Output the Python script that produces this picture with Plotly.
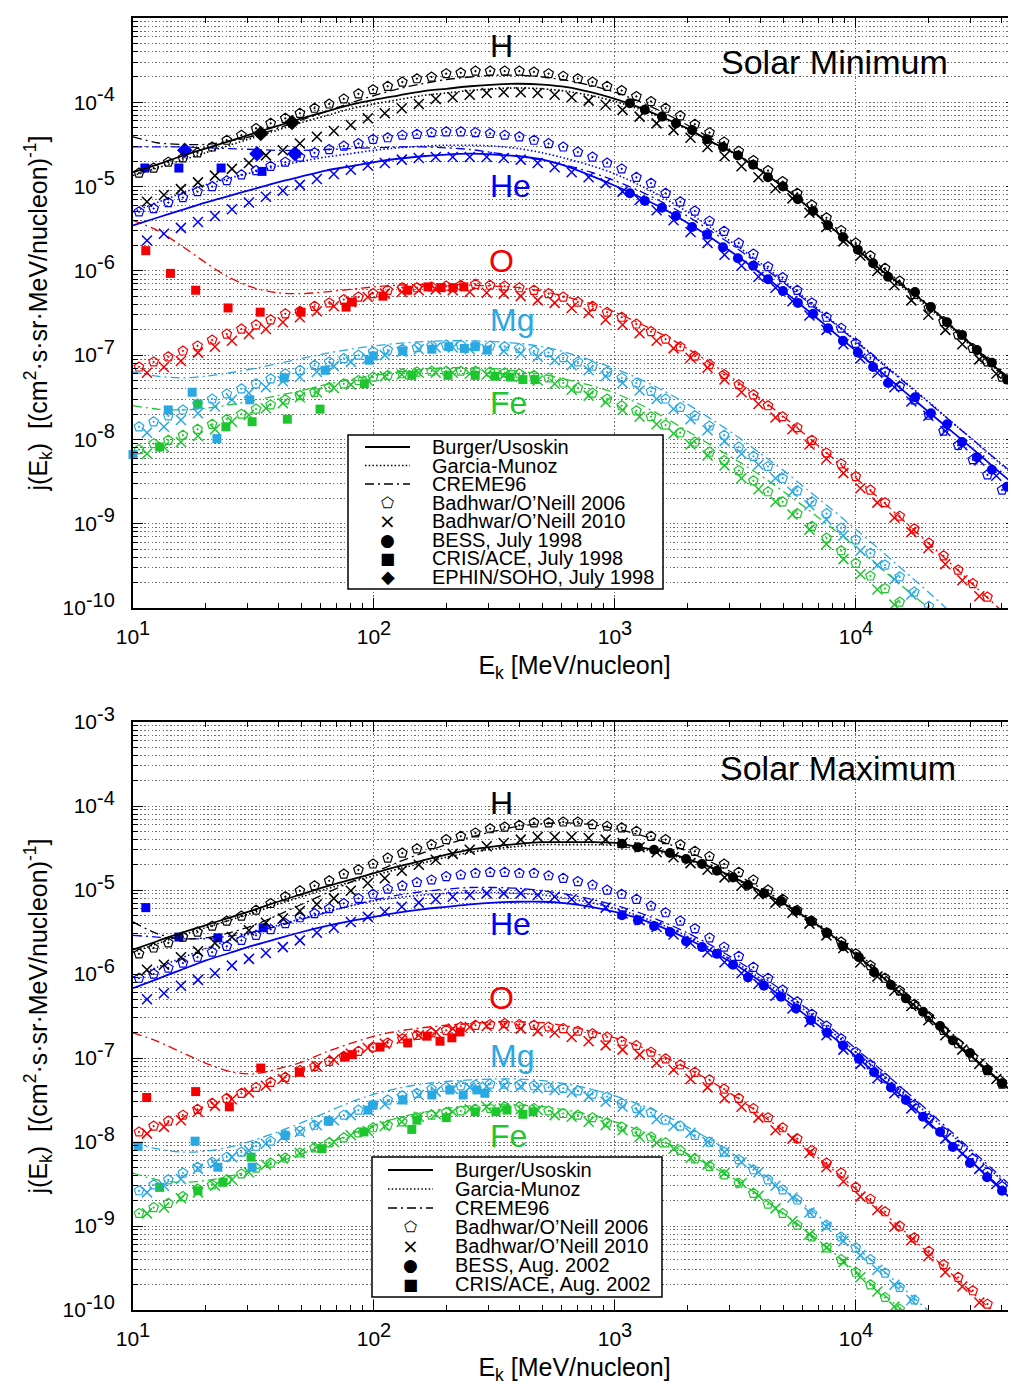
import plotly.graph_objects as go

# ---------------------------------------------------------------- energies (MeV/nucleon)
E_LINE = [10, 12.59, 15.85, 19.95, 25.12, 31.62, 39.81, 50.12, 63.10, 79.43,
          100, 125.9, 158.5, 199.5, 251.2, 316.2, 398.1, 501.2, 631.0, 794.3,
          1000, 1259, 1585, 1995, 2512, 3162, 3981, 5012, 6310, 7943,
          10000, 12589, 15849, 19953, 25119, 31623, 39811, 50119]
E_B06 = [10.59, 12.18, 14.01, 16.11, 18.52, 21.30, 24.50, 28.17, 32.40, 37.26,
         42.85, 49.27, 56.66, 65.16, 74.94, 86.18, 99.10, 114.0, 131.1, 150.7,
         173.3, 199.3, 229.2, 263.6, 303.2, 348.6, 400.9, 461.1, 530.2, 609.8,
         701.2, 806.4, 927.4, 1066, 1227, 1411, 1622, 1866, 2145, 2467,
         2837, 3263, 3752, 4315, 4962, 5707, 6563, 7547, 8679, 9981,
         11478, 13200, 15180, 17457, 20075, 23087, 26550, 30532, 35112, 40379,
         46435]
E_B10 = [11.43, 13.44, 15.81, 18.60, 21.88, 25.73, 30.27, 35.60, 41.87, 49.25,
         57.93, 68.14, 80.14, 94.26, 110.9, 130.4, 153.4, 180.4, 212.2, 249.6,
         293.6, 345.3, 406.2, 477.7, 561.9, 660.9, 777.4, 914.3, 1075, 1265,
         1488, 1750, 2058, 2421, 2848, 3349, 3939, 4634, 5450, 6411,
         7540, 8869, 10432, 12270, 14432, 16975, 19966, 23484, 27622, 32489,
         38214, 44947]
E_BESS_MIN = [1153, 1330, 1567, 1791, 2089, 2410, 2805, 3236, 3741, 4315, 4977, 5741, 6637,
              7656, 8831, 10186, 11776, 13583, 17579, 20464, 23878, 27542, 31769, 36644, 42364]
E_BESS_MAX = [1069, 1245, 1452, 1690, 1972, 2296, 2649, 3090, 3565, 4150, 4887, 5636, 6501,
              7586, 8831, 10280, 11885, 13964, 16106, 18967, 22336, 25235, 29717, 34995, 40365]

# ---------------------------------------------------------------- SOLAR MINIMUM (log10 j)
H_MIN_B06 = [-4.84, -4.78, -4.71, -4.66, -4.60, -4.53, -4.45, -4.39, -4.31, -4.25,
             -4.19, -4.13, -4.07, -4.02, -3.96, -3.90, -3.85, -3.81, -3.76, -3.72,
             -3.70, -3.66, -3.65, -3.63, -3.63, -3.63, -3.63, -3.64, -3.66, -3.69,
             -3.72, -3.76, -3.81, -3.86, -3.93, -3.99, -4.07, -4.16, -4.26, -4.36,
             -4.47, -4.58, -4.69, -4.81, -4.94, -5.08, -5.22, -5.37, -5.52, -5.67,
             -5.82, -5.97, -6.12, -6.28, -6.44, -6.60, -6.76, -6.92, -7.08, -7.26,
             -7.42]
H_MIN_B10 = [-5.18, -5.10, -5.03, -4.95, -4.87, -4.79, -4.72, -4.63, -4.57, -4.49,
             -4.41, -4.34, -4.27, -4.19, -4.13, -4.07, -4.02, -3.96, -3.94, -3.91,
             -3.89, -3.88, -3.88, -3.89, -3.91, -3.94, -3.98, -4.03, -4.09, -4.17,
             -4.25, -4.33, -4.42, -4.53, -4.64, -4.76, -4.89, -5.02, -5.14, -5.31,
             -5.48, -5.65, -5.82, -6.00, -6.17, -6.35, -6.52, -6.70, -6.87, -7.05,
             -7.22, -7.40]
H_MIN_BU = [-4.83, -4.74, -4.64, -4.55, -4.46, -4.37, -4.28, -4.19, -4.11, -4.03,
            -3.97, -3.92, -3.87, -3.84, -3.81, -3.79, -3.78, -3.79, -3.82, -3.88,
            -3.96, -4.06, -4.18, -4.31, -4.47, -4.61, -4.80, -5.01, -5.24, -5.49,
            -5.73, -5.98, -6.19, -6.41, -6.67, -6.93, -7.20, -7.47]
H_MIN_GM = [-4.87, -4.78, -4.69, -4.60, -4.51, -4.42, -4.33, -4.24, -4.16, -4.08,
            -4.02, -3.97, -3.92, -3.89, -3.86, -3.84, -3.83, -3.84, -3.87, -3.92,
            -3.99, -4.08, -4.19, -4.32, -4.47, -4.62, -4.80, -5.01, -5.24, -5.49,
            -5.74, -5.99, -6.21, -6.43, -6.69, -6.95, -7.22, -7.49]
H_MIN_CR = [-4.41, -4.48, -4.50, -4.50, -4.46, -4.40, -4.31, -4.21, -4.11, -4.01,
            -3.92, -3.84, -3.78, -3.73, -3.70, -3.68, -3.68, -3.70, -3.74, -3.80,
            -3.88, -3.99, -4.12, -4.27, -4.43, -4.60, -4.79, -4.99, -5.21, -5.45,
            -5.69, -5.94, -6.17, -6.40, -6.66, -6.92, -7.19, -7.46]
H_MIN_BESS = [-4.01, -4.09, -4.17, -4.25, -4.33, -4.44, -4.53, -4.63, -4.74, -4.89, -5.00, -5.15, -5.29,
              -5.46, -5.60, -5.75, -5.91, -6.07, -6.25, -6.43, -6.61, -6.76, -6.94, -7.09, -7.29]
E_H_EPHIN = [33.9, 45.7]
H_MIN_EPHIN = [-4.37, -4.24]

HE_MIN_B06 = [-5.30, -5.26, -5.19, -5.13, -5.06, -5.00, -4.93, -4.86, -4.81, -4.76,
              -4.71, -4.65, -4.60, -4.56, -4.52, -4.49, -4.44, -4.42, -4.39, -4.38,
              -4.36, -4.35, -4.35, -4.36, -4.37, -4.39, -4.41, -4.45, -4.49, -4.53,
              -4.59, -4.65, -4.72, -4.79, -4.89, -4.96, -5.08, -5.18, -5.29, -5.41,
              -5.53, -5.67, -5.80, -5.95, -6.08, -6.23, -6.38, -6.55, -6.68, -6.86,
              -7.03, -7.20, -7.37, -7.53, -7.71, -7.90, -8.07, -8.24, -8.42, -8.60,
              -8.77]
HE_MIN_B10 = [-5.64, -5.56, -5.49, -5.42, -5.35, -5.27, -5.19, -5.12, -5.05, -4.98,
              -4.91, -4.85, -4.80, -4.75, -4.72, -4.68, -4.66, -4.65, -4.65, -4.65,
              -4.65, -4.66, -4.68, -4.72, -4.77, -4.83, -4.89, -4.96, -5.06, -5.16,
              -5.28, -5.40, -5.54, -5.67, -5.81, -5.94, -6.07, -6.20, -6.36, -6.53,
              -6.70, -6.87, -7.04, -7.21, -7.38, -7.55, -7.72, -7.90, -8.07, -8.25,
              -8.43, -8.61]
HE_MIN_BU = [-5.46, -5.37, -5.28, -5.19, -5.11, -5.03, -4.95, -4.88, -4.81, -4.76,
             -4.71, -4.67, -4.64, -4.62, -4.61, -4.62, -4.64, -4.68, -4.76, -4.87,
             -4.99, -5.12, -5.26, -5.43, -5.61, -5.81, -6.02, -6.24, -6.47, -6.71,
             -6.95, -7.19, -7.43, -7.67, -7.91, -8.15, -8.40, -8.64]
HE_MIN_GM = [-5.30, -5.19, -5.08, -4.98, -4.90, -4.83, -4.76, -4.70, -4.65, -4.61,
             -4.57, -4.54, -4.52, -4.51, -4.51, -4.52, -4.55, -4.60, -4.67, -4.75,
             -4.85, -4.98, -5.13, -5.30, -5.49, -5.69, -5.90, -6.12, -6.35, -6.59,
             -6.83, -7.07, -7.31, -7.55, -7.80, -8.04, -8.29, -8.53]
HE_MIN_CR = [-4.53, -4.53, -4.53, -4.54, -4.55, -4.56, -4.57, -4.57, -4.56, -4.55,
             -4.54, -4.53, -4.53, -4.54, -4.56, -4.60, -4.64, -4.69, -4.75, -4.83,
             -4.93, -5.05, -5.19, -5.35, -5.53, -5.72, -5.93, -6.14, -6.37, -6.60,
             -6.84, -7.08, -7.32, -7.56, -7.80, -8.04, -8.28, -8.52]
HE_MIN_BESS = [-5.08, -5.17, -5.25, -5.35, -5.48, -5.57, -5.72, -5.85, -5.94, -6.10, -6.24, -6.38, -6.51,
               -6.68, -6.83, -6.97, -7.14, -7.33, -7.50, -7.69, -7.82, -8.03, -8.21, -8.36, -8.56]
E_HE_CRIS_MIN = [11.2, 15.5, 23.2, 34.3]
HE_MIN_CRIS = [-4.78, -4.78, -4.78, -4.82]
E_HE_EPHIN = [16.4, 32.7, 47.0]
HE_MIN_EPHIN = [-4.57, -4.61, -4.61]

O_MIN_B06 = [-7.14, -7.08, -7.02, -6.95, -6.89, -6.82, -6.75, -6.69, -6.64, -6.58,
             -6.51, -6.48, -6.42, -6.38, -6.34, -6.31, -6.27, -6.23, -6.20, -6.20,
             -6.19, -6.18, -6.17, -6.16, -6.17, -6.18, -6.20, -6.23, -6.27, -6.31,
             -6.37, -6.42, -6.49, -6.55, -6.63, -6.72, -6.81, -6.90, -7.01, -7.11,
             -7.23, -7.35, -7.47, -7.60, -7.73, -7.86, -8.01, -8.16, -8.29, -8.44,
             -8.60, -8.75, -8.91, -9.06, -9.23, -9.38, -9.55, -9.71, -9.87, -10.03,
             -10.20]
O_MIN_B10 = [-7.21, -7.14, -7.07, -6.97, -6.90, -6.83, -6.75, -6.69, -6.61, -6.55,
             -6.48, -6.42, -6.37, -6.31, -6.27, -6.25, -6.23, -6.22, -6.23, -6.25,
             -6.26, -6.27, -6.30, -6.35, -6.38, -6.44, -6.50, -6.58, -6.64, -6.74,
             -6.83, -6.92, -7.03, -7.15, -7.29, -7.44, -7.58, -7.74, -7.88, -8.06,
             -8.23, -8.40, -8.58, -8.75, -8.93, -9.10, -9.29, -9.48, -9.67, -9.86,
             -10.05, -10.24]
O_MIN_CR = [-5.40, -5.52, -5.70, -5.90, -6.08, -6.20, -6.26, -6.27, -6.25, -6.22,
            -6.19, -6.17, -6.16, -6.16, -6.17, -6.18, -6.20, -6.24, -6.31, -6.39,
            -6.49, -6.62, -6.76, -6.92, -7.10, -7.30, -7.51, -7.73, -7.97, -8.21,
            -8.46, -8.71, -8.97, -9.23, -9.49, -9.76, -10.02, -10.29]
E_O_CRIS_MIN = [11.3, 14.3, 18.2, 24.8, 33.7, 49.8, 76.6, 81.3, 108.9, 138.0, 167.5, 189.7, 212.8, 236.0]
O_MIN_CRIS = [-5.76, -6.03, -6.23, -6.44, -6.49, -6.49, -6.43, -6.37, -6.30, -6.23, -6.19, -6.20, -6.20, -6.19]

MG_MIN_B06 = [-7.85, -7.79, -7.72, -7.65, -7.58, -7.52, -7.46, -7.40, -7.34, -7.28,
              -7.22, -7.18, -7.12, -7.08, -7.04, -7.00, -6.96, -6.94, -6.93, -6.91,
              -6.89, -6.88, -6.88, -6.89, -6.89, -6.90, -6.92, -6.95, -6.97, -7.03,
              -7.08, -7.13, -7.20, -7.27, -7.33, -7.43, -7.52, -7.62, -7.72, -7.84,
              -7.95, -8.09, -8.20, -8.32, -8.46, -8.61, -8.74, -8.88, -9.05, -9.19,
              -9.35, -9.49, -9.63, -9.81, -9.98, -10.15, -10.32, -10.50, -10.68, -10.86,
              -11.04]
MG_MIN_B10 = [-7.92, -7.85, -7.77, -7.69, -7.61, -7.53, -7.45, -7.38, -7.31, -7.26,
              -7.20, -7.13, -7.08, -7.04, -7.00, -6.96, -6.93, -6.91, -6.91, -6.93,
              -6.93, -6.95, -6.98, -7.02, -7.06, -7.12, -7.18, -7.25, -7.33, -7.42,
              -7.52, -7.64, -7.76, -7.89, -8.02, -8.17, -8.30, -8.46, -8.62, -8.78,
              -8.95, -9.14, -9.32, -9.49, -9.66, -9.84, -10.04, -10.22, -10.40, -10.58,
              -10.76, -10.94]
MG_MIN_CR = [-7.20, -7.25, -7.27, -7.25, -7.21, -7.16, -7.10, -7.04, -6.98, -6.93,
             -6.89, -6.86, -6.84, -6.83, -6.83, -6.84, -6.86, -6.90, -6.97, -7.06,
             -7.16, -7.28, -7.42, -7.58, -7.76, -7.95, -8.16, -8.37, -8.60, -8.83,
             -9.07, -9.31, -9.56, -9.81, -10.07, -10.33, -10.60, -10.86]
E_MG_CRIS_MIN = [10.0, 14.0, 17.6, 22.3, 30.5, 42.4, 62.7, 95.5, 99.3, 131.8, 173.8, 204.2, 237.1, 263.0, 295.1]
MG_MIN_CRIS = [-8.18, -7.65, -7.44, -7.99, -7.53, -7.27, -7.18, -7.06, -7.01, -6.95, -6.93, -6.90, -6.92, -6.90, -6.94]

FE_MIN_B06 = [-8.12, -8.05, -8.01, -7.95, -7.88, -7.82, -7.76, -7.70, -7.64, -7.59,
              -7.53, -7.48, -7.44, -7.38, -7.34, -7.30, -7.26, -7.24, -7.22, -7.20,
              -7.19, -7.19, -7.19, -7.19, -7.20, -7.21, -7.22, -7.24, -7.27, -7.33,
              -7.39, -7.45, -7.52, -7.60, -7.66, -7.73, -7.83, -7.92, -8.03, -8.15,
              -8.25, -8.37, -8.49, -8.62, -8.74, -8.88, -9.03, -9.17, -9.32, -9.47,
              -9.62, -9.77, -9.93, -10.09, -10.25, -10.41, -10.57, -10.73, -10.89, -11.05,
              -11.21]
FE_MIN_B10 = [-8.17, -8.09, -8.03, -7.96, -7.88, -7.79, -7.71, -7.63, -7.57, -7.50,
              -7.44, -7.39, -7.35, -7.30, -7.25, -7.23, -7.21, -7.21, -7.21, -7.22,
              -7.23, -7.24, -7.26, -7.30, -7.34, -7.41, -7.48, -7.56, -7.65, -7.73,
              -7.82, -7.93, -8.06, -8.19, -8.31, -8.46, -8.59, -8.74, -8.89, -9.07,
              -9.24, -9.42, -9.60, -9.78, -9.96, -10.13, -10.31, -10.49, -10.67, -10.85,
              -11.03, -11.21]
FE_MIN_CR = [-7.60, -7.64, -7.65, -7.63, -7.59, -7.54, -7.48, -7.42, -7.35, -7.29,
             -7.24, -7.20, -7.17, -7.15, -7.15, -7.16, -7.19, -7.23, -7.29, -7.36,
             -7.45, -7.58, -7.73, -7.90, -8.07, -8.24, -8.42, -8.62, -8.83, -9.05,
             -9.28, -9.52, -9.76, -10.00, -10.25, -10.50, -10.75, -11.00]
E_FE_CRIS_MIN = [12.9, 18.6, 24.3, 31.2, 43.7, 59.7, 91.2, 143.5, 202.8, 263.0, 317.7, 367.3, 415.0, 465.6]
FE_MIN_CRIS = [-8.09, -7.58, -7.85, -7.79, -7.76, -7.64, -7.34, -7.24, -7.24, -7.24, -7.25, -7.26, -7.29, -7.29]

# ---------------------------------------------------------------- SOLAR MAXIMUM (log10 j)
H_MAX_B06 = [-5.76, -5.69, -5.63, -5.56, -5.50, -5.43, -5.37, -5.31, -5.24, -5.16,
             -5.08, -5.01, -4.95, -4.89, -4.81, -4.76, -4.69, -4.62, -4.56, -4.51,
             -4.46, -4.40, -4.36, -4.32, -4.27, -4.25, -4.23, -4.20, -4.20, -4.19,
             -4.19, -4.22, -4.24, -4.26, -4.30, -4.36, -4.40, -4.46, -4.54, -4.60,
             -4.69, -4.79, -4.88, -5.00, -5.11, -5.24, -5.37, -5.51, -5.62, -5.76,
             -5.90, -6.05, -6.20, -6.36, -6.51, -6.67, -6.83, -6.99, -7.15, -7.31,
             -7.47]
H_MAX_B10 = [-5.95, -5.89, -5.80, -5.73, -5.63, -5.56, -5.48, -5.39, -5.34, -5.25,
             -5.17, -5.10, -5.01, -4.92, -4.86, -4.77, -4.70, -4.64, -4.57, -4.52,
             -4.48, -4.44, -4.40, -4.37, -4.37, -4.37, -4.38, -4.40, -4.44, -4.49,
             -4.55, -4.61, -4.68, -4.76, -4.85, -4.95, -5.05, -5.15, -5.27, -5.40,
             -5.54, -5.69, -5.86, -6.03, -6.20, -6.38, -6.55, -6.73, -6.90, -7.07,
             -7.25, -7.43]
H_MAX_BU = [-5.71, -5.61, -5.51, -5.42, -5.33, -5.24, -5.14, -5.05, -4.96, -4.88,
            -4.80, -4.72, -4.65, -4.58, -4.52, -4.48, -4.45, -4.43, -4.43, -4.43,
            -4.44, -4.49, -4.54, -4.63, -4.73, -4.86, -5.01, -5.16, -5.34, -5.54,
            -5.77, -6.01, -6.27, -6.52, -6.78, -7.03, -7.28, -7.53]
H_MAX_GM = [-5.74, -5.64, -5.54, -5.45, -5.36, -5.27, -5.17, -5.08, -4.99, -4.91,
            -4.83, -4.75, -4.68, -4.61, -4.55, -4.51, -4.48, -4.46, -4.46, -4.46,
            -4.47, -4.51, -4.56, -4.64, -4.74, -4.87, -5.02, -5.17, -5.35, -5.55,
            -5.78, -6.02, -6.28, -6.53, -6.79, -7.04, -7.29, -7.54]
H_MAX_CR = [-5.38, -5.52, -5.58, -5.57, -5.51, -5.42, -5.30, -5.17, -5.04, -4.91,
            -4.79, -4.67, -4.56, -4.46, -4.37, -4.30, -4.24, -4.21, -4.20, -4.22,
            -4.27, -4.34, -4.43, -4.54, -4.67, -4.81, -4.97, -5.14, -5.32, -5.52,
            -5.74, -5.97, -6.21, -6.46, -6.71, -6.96, -7.21, -7.46]
H_MAX_BESS = [-4.45, -4.49, -4.52, -4.56, -4.63, -4.69, -4.77, -4.85, -4.94, -5.04, -5.13, -5.25, -5.37,
              -5.51, -5.67, -5.80, -5.98, -6.13, -6.29, -6.45, -6.62, -6.79, -6.94, -7.14, -7.30]

HE_MAX_B06 = [-6.05, -6.00, -5.93, -5.87, -5.80, -5.74, -5.67, -5.60, -5.54, -5.47,
              -5.40, -5.33, -5.28, -5.22, -5.16, -5.10, -5.05, -4.99, -4.95, -4.91,
              -4.88, -4.84, -4.82, -4.80, -4.79, -4.79, -4.80, -4.80, -4.83, -4.86,
              -4.90, -4.94, -5.00, -5.05, -5.11, -5.19, -5.27, -5.37, -5.46, -5.57,
              -5.68, -5.79, -5.92, -6.05, -6.19, -6.33, -6.48, -6.62, -6.77, -6.93,
              -7.08, -7.24, -7.40, -7.56, -7.72, -7.88, -8.04, -8.20, -8.36, -8.53,
              -8.70]
HE_MAX_B10 = [-6.30, -6.23, -6.14, -6.07, -5.99, -5.90, -5.82, -5.75, -5.68, -5.60,
              -5.51, -5.45, -5.38, -5.32, -5.26, -5.20, -5.15, -5.11, -5.08, -5.06,
              -5.04, -5.04, -5.04, -5.06, -5.08, -5.11, -5.16, -5.21, -5.28, -5.36,
              -5.44, -5.53, -5.63, -5.74, -5.86, -5.99, -6.12, -6.26, -6.41, -6.57,
              -6.73, -6.90, -7.07, -7.24, -7.42, -7.60, -7.78, -7.96, -8.14, -8.32,
              -8.50, -8.68]
HE_MAX_BU = [-6.17, -6.06, -5.95, -5.84, -5.75, -5.66, -5.58, -5.50, -5.43, -5.37,
             -5.32, -5.27, -5.23, -5.20, -5.17, -5.15, -5.14, -5.14, -5.16, -5.20,
             -5.26, -5.34, -5.45, -5.58, -5.73, -5.89, -6.08, -6.29, -6.51, -6.74,
             -6.98, -7.23, -7.48, -7.76, -8.03, -8.29, -8.56, -8.83]
HE_MAX_GM = [-6.04, -5.92, -5.81, -5.70, -5.60, -5.51, -5.42, -5.34, -5.26, -5.19,
             -5.13, -5.09, -5.06, -5.04, -5.03, -5.03, -5.04, -5.06, -5.10, -5.15,
             -5.22, -5.31, -5.42, -5.55, -5.70, -5.86, -6.05, -6.25, -6.46, -6.69,
             -6.93, -7.17, -7.42, -7.67, -7.92, -8.18, -8.44, -8.70]
HE_MAX_CR = [-5.54, -5.56, -5.58, -5.58, -5.55, -5.50, -5.43, -5.35, -5.27, -5.19,
             -5.12, -5.06, -5.02, -4.99, -4.97, -4.97, -4.98, -5.01, -5.05, -5.11,
             -5.18, -5.27, -5.38, -5.51, -5.66, -5.83, -6.01, -6.21, -6.42, -6.65,
             -6.89, -7.13, -7.38, -7.63, -7.89, -8.15, -8.41, -8.67]
HE_MAX_BESS = [-5.30, -5.36, -5.43, -5.50, -5.61, -5.68, -5.76, -5.89, -6.04, -6.14, -6.27, -6.41, -6.55,
               -6.70, -6.85, -7.01, -7.17, -7.35, -7.50, -7.70, -7.88, -8.06, -8.25, -8.42, -8.58]
E_HE_CRIS_MAX = [11.3, 15.5, 22.5, 34.7]
HE_MAX_CRIS = [-5.21, -5.56, -5.57, -5.45]

O_MAX_B06 = [-7.88, -7.81, -7.75, -7.68, -7.61, -7.54, -7.48, -7.42, -7.35, -7.29,
             -7.23, -7.15, -7.10, -7.04, -6.98, -6.92, -6.87, -6.82, -6.77, -6.73,
             -6.70, -6.67, -6.63, -6.61, -6.60, -6.59, -6.60, -6.61, -6.63, -6.65,
             -6.68, -6.71, -6.75, -6.80, -6.85, -6.93, -7.01, -7.08, -7.17, -7.26,
             -7.37, -7.48, -7.60, -7.71, -7.83, -7.96, -8.10, -8.25, -8.37, -8.54,
             -8.68, -8.83, -9.00, -9.14, -9.30, -9.46, -9.61, -9.77, -9.93, -10.09,
             -10.25]
O_MAX_B10 = [-7.90, -7.82, -7.74, -7.64, -7.57, -7.49, -7.41, -7.33, -7.25, -7.17,
             -7.10, -7.02, -6.95, -6.88, -6.83, -6.77, -6.73, -6.69, -6.65, -6.63,
             -6.62, -6.62, -6.65, -6.68, -6.70, -6.75, -6.80, -6.85, -6.90, -6.96,
             -7.06, -7.14, -7.25, -7.35, -7.48, -7.58, -7.71, -7.86, -7.96, -8.13,
             -8.30, -8.47, -8.65, -8.81, -9.01, -9.17, -9.36, -9.55, -9.72, -9.91,
             -10.10, -10.28]
O_MAX_CR = [-6.70, -6.80, -6.93, -7.06, -7.16, -7.19, -7.13, -7.05, -6.93, -6.83,
            -6.74, -6.68, -6.64, -6.61, -6.59, -6.57, -6.57, -6.58, -6.62, -6.68,
            -6.76, -6.86, -6.98, -7.12, -7.28, -7.46, -7.66, -7.87, -8.09, -8.32,
            -8.56, -8.81, -9.06, -9.32, -9.58, -9.84, -10.10, -10.37]
E_O_CRIS_MAX = [11.4, 18.2, 25.1, 33.9, 49.0, 75.9, 81.3, 105.9, 138.0, 166.0, 187.9, 210.4, 227.5]
O_MAX_CRIS = [-7.47, -7.40, -7.58, -7.12, -7.17, -6.99, -6.96, -6.87, -6.82, -6.74, -6.80, -6.76, -6.69]

MG_MAX_B06 = [-8.58, -8.51, -8.45, -8.37, -8.30, -8.24, -8.18, -8.12, -8.05, -7.99,
              -7.92, -7.87, -7.80, -7.75, -7.68, -7.62, -7.56, -7.50, -7.45, -7.42,
              -7.37, -7.35, -7.33, -7.32, -7.31, -7.31, -7.32, -7.33, -7.35, -7.36,
              -7.39, -7.43, -7.46, -7.54, -7.60, -7.65, -7.74, -7.81, -7.92, -8.00,
              -8.12, -8.21, -8.33, -8.45, -8.57, -8.69, -8.85, -8.99, -9.13, -9.26,
              -9.40, -9.56, -9.73, -9.88, -10.04, -10.20, -10.36, -10.52, -10.68, -10.84,
              -11.00]
MG_MAX_B10 = [-8.60, -8.52, -8.44, -8.32, -8.25, -8.18, -8.10, -8.02, -7.94, -7.88,
              -7.80, -7.74, -7.68, -7.62, -7.55, -7.49, -7.44, -7.40, -7.37, -7.35,
              -7.34, -7.33, -7.34, -7.36, -7.38, -7.41, -7.46, -7.52, -7.58, -7.65,
              -7.73, -7.81, -7.89, -8.00, -8.12, -8.24, -8.36, -8.52, -8.66, -8.84,
              -9.01, -9.18, -9.35, -9.52, -9.70, -9.88, -10.07, -10.25, -10.43, -10.61,
              -10.79, -10.97]
MG_MAX_CR = [-8.01, -8.08, -8.12, -8.11, -8.06, -7.98, -7.88, -7.77, -7.65, -7.53,
             -7.43, -7.36, -7.31, -7.28, -7.26, -7.25, -7.25, -7.27, -7.31, -7.37,
             -7.45, -7.55, -7.67, -7.82, -7.98, -8.16, -8.35, -8.56, -8.78, -9.01,
             -9.25, -9.50, -9.75, -10.01, -10.27, -10.53, -10.79, -11.05]
E_MG_CRIS_MAX = [10.5, 18.1, 22.5, 31.2, 42.8, 64.6, 94.4, 99.1, 131.8, 173.8, 206.5, 234.4, 267.3, 288.4]
MG_MAX_CRIS = [-8.05, -7.99, -8.30, -8.30, -7.92, -7.75, -7.62, -7.56, -7.50, -7.44, -7.38, -7.44, -7.38, -7.42]

FE_MAX_B06 = [-8.85, -8.78, -8.73, -8.65, -8.56, -8.51, -8.45, -8.38, -8.31, -8.25,
              -8.19, -8.13, -8.07, -8.01, -7.95, -7.89, -7.83, -7.80, -7.76, -7.71,
              -7.68, -7.65, -7.63, -7.61, -7.60, -7.58, -7.58, -7.60, -7.63, -7.66,
              -7.68, -7.71, -7.77, -7.82, -7.88, -7.94, -8.01, -8.10, -8.20, -8.29,
              -8.39, -8.49, -8.61, -8.74, -8.85, -8.99, -9.13, -9.26, -9.40, -9.55,
              -9.70, -9.85, -9.99, -10.14, -10.29, -10.44, -10.59, -10.74, -10.89, -11.04,
              -11.19]
FE_MAX_B10 = [-8.85, -8.78, -8.67, -8.60, -8.52, -8.45, -8.36, -8.27, -8.20, -8.13,
              -8.06, -8.00, -7.92, -7.87, -7.81, -7.76, -7.70, -7.67, -7.64, -7.61,
              -7.58, -7.60, -7.61, -7.62, -7.68, -7.70, -7.76, -7.80, -7.86, -7.94,
              -8.01, -8.08, -8.19, -8.27, -8.37, -8.49, -8.64, -8.79, -8.94, -9.10,
              -9.26, -9.43, -9.61, -9.78, -9.96, -10.13, -10.30, -10.47, -10.64, -10.81,
              -10.98, -11.15]
FE_MAX_CR = [-8.37, -8.45, -8.48, -8.46, -8.41, -8.33, -8.24, -8.14, -8.03, -7.91,
             -7.80, -7.71, -7.65, -7.60, -7.57, -7.56, -7.56, -7.58, -7.62, -7.68,
             -7.76, -7.86, -7.99, -8.14, -8.29, -8.45, -8.64, -8.85, -9.07, -9.30,
             -9.54, -9.78, -10.02, -10.27, -10.52, -10.77, -11.02, -11.27]
E_FE_CRIS_MAX = [12.9, 18.6, 23.6, 30.9, 60.8, 90.8, 143.5, 150.7, 199.5, 263.0, 320.6, 356.5, 415.0, 457.1]
FE_MAX_CRIS = [-8.54, -8.58, -8.48, -8.18, -8.08, -7.88, -7.85, -7.74, -7.71, -7.64, -7.64, -7.62, -7.67, -7.64]

# ---------------------------------------------------------------- styling
FONT = "Liberation Sans, Arial, Helvetica, sans-serif"
C_H, C_HE, C_O, C_MG, C_FE = "#000000", "#0000f5", "#f50000", "#2aa8e2", "#1ec62e"
DOT = "1.5px,2.2px"
DASHDOT = "9px,4px,2px,4px"

fig = go.Figure()


def flux(vals):
    return [10 ** v for v in vals]


def add_line(E, vals, color, dash, width, xa, ya):
    if len(E) != len(vals):
        raise ValueError("length mismatch")
    fig.add_trace(go.Scatter(x=E, y=flux(vals), mode="lines", xaxis=xa, yaxis=ya,
                             line=dict(color=color, dash=dash, width=width, shape="spline", smoothing=0.8),
                             showlegend=False, hoverinfo="skip"))


def add_pts(E, vals, color, symbol, size, xa, ya, lw=1.2, clip=True):
    if len(E) != len(vals):
        raise ValueError("length mismatch")
    fig.add_trace(go.Scatter(x=E, y=flux(vals), mode="markers", xaxis=xa, yaxis=ya, cliponaxis=clip,
                             marker=dict(symbol=symbol, size=size, color=color,
                                         line=dict(color=color, width=lw)),
                             showlegend=False, hoverinfo="skip"))


def species(color, xa, ya, b06, b10, cr, bu=None, gm=None, bess=None, e_bess=None,
            cris=None, e_cris=None, ephin=None, e_ephin=None):
    add_line(E_LINE, cr, color, DASHDOT, 1.3, xa, ya)
    if gm is not None:
        add_line(E_LINE, gm, color, DOT, 1.6, xa, ya)
    if bu is not None:
        add_line(E_LINE, bu, color, "solid", 1.8, xa, ya)
    add_pts(E_B06, b06, color, "pentagon-open-dot", 10, xa, ya, lw=1.2)
    add_pts(E_B10, b10, color, "x-thin-open", 10, xa, ya, lw=1.5)
    if bess is not None:
        add_pts(e_bess, bess, color, "circle", 10, xa, ya, lw=0)
    if cris is not None:
        add_pts(e_cris, cris, color, "square", 9, xa, ya, lw=0, clip=False)
    if ephin is not None:
        add_pts(e_ephin, ephin, color, "diamond", 12, xa, ya, lw=0)


# top panel: solar minimum
species(C_FE, "x", "y", FE_MIN_B06, FE_MIN_B10, FE_MIN_CR, cris=FE_MIN_CRIS, e_cris=E_FE_CRIS_MIN)
species(C_MG, "x", "y", MG_MIN_B06, MG_MIN_B10, MG_MIN_CR, cris=MG_MIN_CRIS, e_cris=E_MG_CRIS_MIN)
species(C_O, "x", "y", O_MIN_B06, O_MIN_B10, O_MIN_CR, cris=O_MIN_CRIS, e_cris=E_O_CRIS_MIN)
species(C_HE, "x", "y", HE_MIN_B06, HE_MIN_B10, HE_MIN_CR, bu=HE_MIN_BU, gm=HE_MIN_GM,
        bess=HE_MIN_BESS, e_bess=E_BESS_MIN, cris=HE_MIN_CRIS, e_cris=E_HE_CRIS_MIN,
        ephin=HE_MIN_EPHIN, e_ephin=E_HE_EPHIN)
species(C_H, "x", "y", H_MIN_B06, H_MIN_B10, H_MIN_CR, bu=H_MIN_BU, gm=H_MIN_GM,
        bess=H_MIN_BESS, e_bess=E_BESS_MIN, ephin=H_MIN_EPHIN, e_ephin=E_H_EPHIN)

# bottom panel: solar maximum
species(C_FE, "x2", "y2", FE_MAX_B06, FE_MAX_B10, FE_MAX_CR, cris=FE_MAX_CRIS, e_cris=E_FE_CRIS_MAX)
species(C_MG, "x2", "y2", MG_MAX_B06, MG_MAX_B10, MG_MAX_CR, cris=MG_MAX_CRIS, e_cris=E_MG_CRIS_MAX)
species(C_O, "x2", "y2", O_MAX_B06, O_MAX_B10, O_MAX_CR, cris=O_MAX_CRIS, e_cris=E_O_CRIS_MAX)
species(C_HE, "x2", "y2", HE_MAX_B06, HE_MAX_B10, HE_MAX_CR, bu=HE_MAX_BU, gm=HE_MAX_GM,
        bess=HE_MAX_BESS, e_bess=E_BESS_MAX, cris=HE_MAX_CRIS, e_cris=E_HE_CRIS_MAX)
species(C_H, "x2", "y2", H_MAX_B06, H_MAX_B10, H_MAX_CR, bu=H_MAX_BU, gm=H_MAX_GM,
        bess=H_MAX_BESS, e_bess=E_BESS_MAX)

# ---------------------------------------------------------------- axes
SUP = "<sup><span style='font-size:20px'>%s</span></sup>"
X_TICKS = [10, 100, 1000, 10000]
X_TEXT = ["10" + SUP % e for e in ("1", "2", "3", "4")]
X_MINOR = [k * 10 ** e for e in range(1, 5) for k in range(2, 10)]
Y_TICKS = [10.0 ** e for e in range(-10, -2)]
Y_TEXT = ["10" + SUP % ("%d" % e) for e in range(-10, -2)]
Y_MINOR = [k * 10.0 ** e for e in range(-10, -3) for k in range(2, 10)]
GRID = "#6e6e6e"
TITLE_SIZE = 25


def xaxis(anchor):
    return dict(type="log", range=[1, 4.664], anchor=anchor, domain=[0, 1], automargin=False,
                showline=True, linecolor="black", linewidth=2, mirror="ticks",
                ticks="inside", ticklen=10, tickwidth=1.2, tickcolor="black",
                tickvals=X_TICKS, ticktext=X_TEXT, ticklabelstandoff=9,
                tickfont=dict(family=FONT, size=21, color="black"),
                showgrid=True, gridcolor=GRID, griddash=DOT, gridwidth=1,
                minor=dict(tickvals=X_MINOR, ticks="inside", ticklen=5, tickwidth=1,
                           tickcolor="black", showgrid=False),
                title=dict(text="E<sub>k</sub> [MeV/nucleon]", standoff=9,
                           font=dict(family=FONT, size=TITLE_SIZE, color="black")))


def yaxis(anchor, domain):
    return dict(type="log", range=[-10, -3], anchor=anchor, domain=domain, automargin=False,
                showline=True, linecolor="black", linewidth=2, mirror="ticks",
                ticks="inside", ticklen=10, tickwidth=1.2, tickcolor="black",
                tickvals=Y_TICKS, ticktext=Y_TEXT, ticklabelstandoff=12,
                tickfont=dict(family=FONT, size=21, color="black"),
                showgrid=True, gridcolor=GRID, griddash=DOT, gridwidth=1,
                minor=dict(tickvals=Y_MINOR, ticks="inside", ticklen=5, tickwidth=1,
                           tickcolor="black", showgrid=True, gridcolor=GRID, griddash=DOT, gridwidth=1),
                title=dict(text="j(E<sub>k</sub>)\u00a0\u00a0[(cm<sup>2</sup>\u00b7s\u00b7sr\u00b7MeV/nucleon)<sup>-1</sup>]",
                           standoff=8, font=dict(family=FONT, size=TITLE_SIZE, color="black")))


# page body has an 8px margin: the figure is sized/offset so the plot areas land where the reference has them
PAGE_OFF = 8
W, H = 1016 - PAGE_OFF, 1394 - PAGE_OFF
ML, MR, MT, MB = 133 - PAGE_OFF, 0, 18 - PAGE_OFF, 84
PH = H - MT - MB
TOP_PX = (18, 608)
BOT_PX = (722, 1310)


def px_x(p):
    return (p - PAGE_OFF - ML) / (W - ML - MR)


def px_y(p):
    return (H - MB - (p - PAGE_OFF)) / PH


def ydom(px):
    return [px_y(px[1]), px_y(px[0])]


fig.update_layout(
    width=W, height=H, margin=dict(l=ML, r=MR, t=MT, b=MB, autoexpand=False),
    paper_bgcolor="white", plot_bgcolor="rgba(0,0,0,0)", hovermode=False, showlegend=False,
    xaxis=xaxis("y"), yaxis=yaxis("x", ydom(TOP_PX)),
    xaxis2=xaxis("y2"), yaxis2=yaxis("x2", ydom(BOT_PX)),
    font=dict(family=FONT, color="black"),
)

# ---------------------------------------------------------------- species / panel labels
LABELS = [("H", C_H, 2.527, -3.33), ("He", C_HE, 2.568, -4.99), ("O", C_O, 2.531, -5.88),
          ("Mg", C_MG, 2.573, -6.58), ("Fe", C_FE, 2.560, -7.57)]
LABELS_MAX = [("H", C_H, 2.527, -3.96), ("He", C_HE, 2.568, -5.40), ("O", C_O, 2.531, -6.29),
              ("Mg", C_MG, 2.573, -6.98), ("Fe", C_FE, 2.560, -7.93)]
for (t, c, lx, ly) in LABELS:
    fig.add_annotation(x=lx, y=ly, xref="x", yref="y", text=t, showarrow=False,
                       font=dict(family=FONT, size=32, color=c))
for (t, c, lx, ly) in LABELS_MAX:
    fig.add_annotation(x=lx, y=ly, xref="x2", yref="y2", text=t, showarrow=False,
                       font=dict(family=FONT, size=32, color=c))
fig.add_annotation(x=3.909, y=-3.52, xref="x", yref="y", text="Solar Minimum", showarrow=False,
                   font=dict(family=FONT, size=34, color="black"))
fig.add_annotation(x=3.925, y=-3.55, xref="x2", yref="y2", text="Solar Maximum", showarrow=False,
                   font=dict(family=FONT, size=34, color="black"))

# ---------------------------------------------------------------- legends (drawn as layout items)
LEG_MIN = ["Burger/Usoskin", "Garcia-Munoz", "CREME96", "Badhwar/O\u2019Neill 2006",
           "Badhwar/O\u2019Neill 2010", "BESS, July 1998", "CRIS/ACE, July 1998", "EPHIN/SOHO, July 1998"]
LEG_MAX = ["Burger/Usoskin", "Garcia-Munoz", "CREME96", "Badhwar/O\u2019Neill 2006",
           "Badhwar/O\u2019Neill 2010", "BESS, Aug. 2002", "CRIS/ACE, Aug. 2002"]
KEY_STYLES = [("line", "solid"), ("line", DOT), ("line", DASHDOT), ("sym", "\u2b20"),
              ("sym", "\u00d7"), ("sym", "\u25cf"), ("sym", "\u25a0"), ("sym", "\u25c6")]
SYM_SIZE = {"\u2b20": 15, "\u00d7": 20, "\u25cf": 17, "\u25a0": 16, "\u25c6": 18}


def draw_legend(labels, box, row0, drow, key_x0, key_x1, text_x):
    l, t, r, b = box
    fig.add_shape(type="rect", xref="paper", yref="paper", x0=px_x(l), x1=px_x(r), y0=px_y(b), y1=px_y(t),
                  fillcolor="white", line=dict(color="black", width=1.5), layer="above")
    kc = (key_x0 + key_x1) / 2
    for i, lab in enumerate(labels):
        yy = row0 + i * drow
        kind, sty = KEY_STYLES[i]
        if kind == "line":
            fig.add_shape(type="line", xref="paper", yref="paper", x0=px_x(key_x0), x1=px_x(key_x1),
                          y0=px_y(yy), y1=px_y(yy), layer="above",
                          line=dict(color="black", width=1.6 if sty != "solid" else 1.8, dash=sty))
        else:
            fig.add_annotation(x=px_x(kc), y=px_y(yy), xref="paper", yref="paper", text=sty,
                               showarrow=False, xanchor="center", yanchor="middle",
                               font=dict(family="DejaVu Sans", size=SYM_SIZE[sty], color="black"))
        fig.add_annotation(x=px_x(text_x), y=px_y(yy), xref="paper", yref="paper", text=lab,
                           showarrow=False, xanchor="left", yanchor="middle",
                           font=dict(family=FONT, size=20, color="black"))


draw_legend(LEG_MIN, (348, 435, 663, 589), 447, 18.5, 365, 410, 430)
draw_legend(LEG_MAX, (372, 1157, 662, 1297), 1170, 19.0, 388, 433, 453)

fig.write_html("out.html")
